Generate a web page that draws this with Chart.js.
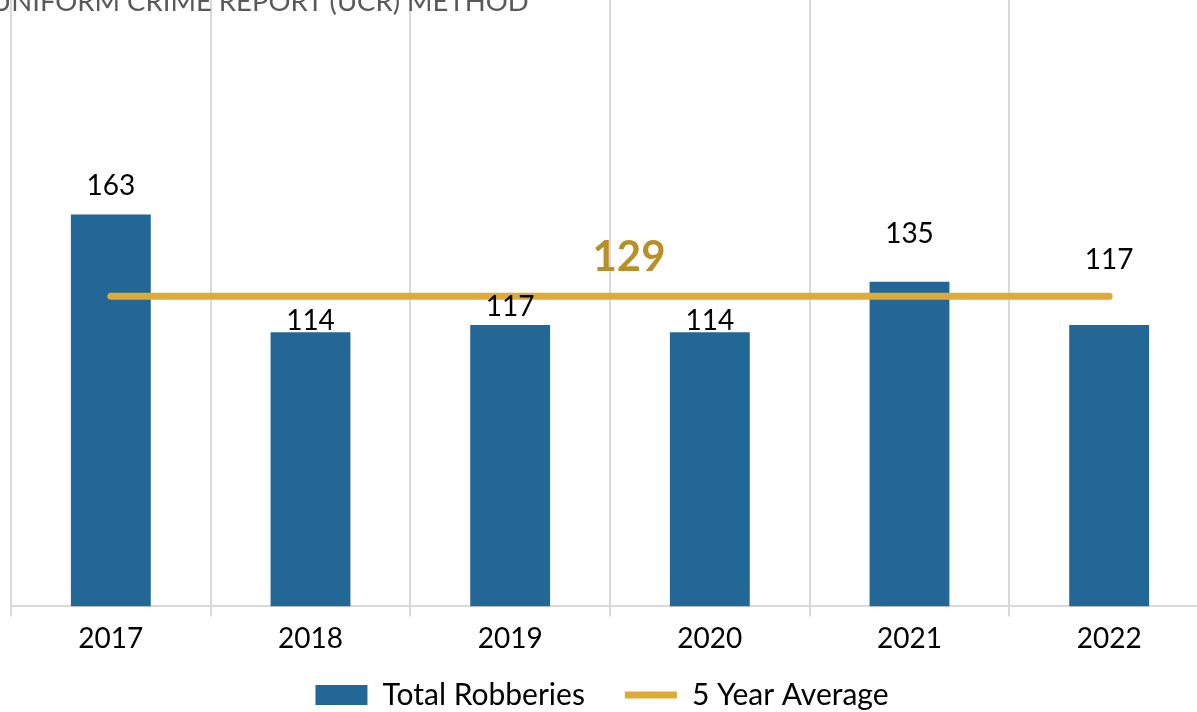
<!DOCTYPE html>
<html>
<head>
<meta charset="utf-8">
<script src="https://cdn.jsdelivr.net/npm/chart.js@4.4.1/dist/chart.umd.min.js"></script>
<style>
  html, body { margin: 0; padding: 0; background: #fff; overflow: hidden; width: 1197px; height: 712px; }
  #wrap { position: absolute; left: 0; top: -50px; width: 1215px; height: 792px; }
  #title { position: absolute; left: -9px; top: -13px; font: 27.5px Lato, sans-serif; line-height: 28px; color: #595959; white-space: nowrap; z-index: 2; }
</style>
</head>
<body>
<div id="title">UNIFORM CRIME REPORT (UCR) METHOD</div>
<div id="wrap"><canvas id="robChart" width="1215" height="792"></canvas></div>
<script>
// data
var years = ['2017', '2018', '2019', '2020', '2021', '2022'];
var robberies = [163, 114, 117, 114, 135, 117];
var fiveYearAvg = [129, 129, 129, 129, 129, 129];
var avgLabel = '129';

// how far each value label sits above its bar (pixels), as placed in the original
var labelLift = [29, 11, 18, 11, 48, 65];

var blue = '#236796';
var gold = '#DDAB36';

// writes the numbers above the bars and the big average label
var valueLabels = {
  id: 'valueLabels',
  afterLayout: function(chart) {
    // nudge the legend: closer to the axis and a bit to the left, like the original
    var lg = chart.legend;
    lg.top -= 22; lg.bottom -= 22;
    lg.left -= 8; lg.right -= 8;
  },
  afterDatasetsDraw: function(chart) {
    var ctx = chart.ctx;
    ctx.save();
    ctx.textAlign = 'center';
    ctx.textBaseline = 'middle';
    ctx.fillStyle = '#000';
    ctx.font = '28px Lato, sans-serif';
    var bars = chart.getDatasetMeta(1).data;
    for (var i = 0; i < bars.length; i++) {
      ctx.fillText(robberies[i], bars[i].x, bars[i].y - labelLift[i]);
    }
    var pts = chart.getDatasetMeta(0).data;
    var mid = (pts[0].x + pts[pts.length - 1].x) / 2;
    ctx.fillStyle = '#B98F28';
    ctx.font = 'bold 42px Lato, sans-serif';
    ctx.fillText(avgLabel, mid + 19, pts[0].y - 39);
    ctx.restore();
  }
};

var ctx = document.getElementById('robChart');
var robChart = new Chart(ctx, {
  type: 'bar',
  data: {
    labels: years,
    datasets: [{
      type: 'line',
      label: '5 Year Average',
      data: fiveYearAvg,
      borderColor: gold,
      backgroundColor: gold,
      borderWidth: 7,
      borderCapStyle: 'round',
      pointRadius: 0,
      pointStyle: 'line',
      order: 0
    }, {
      label: 'Total Robberies',
      data: robberies,
      backgroundColor: blue,
      borderWidth: 0,
      pointStyle: 'rect',
      barPercentage: 0.4,
      categoryPercentage: 1,
      order: 1
    }]
  },
  options: {
    responsive: false,
    devicePixelRatio: 1,
    animation: false,
    layout: { padding: { left: 11, right: 6, top: 0, bottom: 0 } },
    scales: {
      x: {
        grid: { color: '#d9d9d9', lineWidth: 2, tickLength: 10, offset: true },
        border: { color: '#d9d9d9', width: 2 },
        ticks: { color: '#000', font: { family: 'Lato', size: 28 }, padding: 6 }
      },
      y: {
        display: false,
        min: 0,
        max: 273
      }
    },
    plugins: {
      legend: {
        position: 'bottom',
        reverse: true,
        labels: {
          usePointStyle: true,
          pointStyleWidth: 52,
          boxHeight: 20,
          padding: 40,
          color: '#000',
          font: { family: 'Lato', size: 30 }
        }
      },
      tooltip: { enabled: false }
    }
  },
  plugins: [valueLabels]
});
</script>
</body>
</html>
